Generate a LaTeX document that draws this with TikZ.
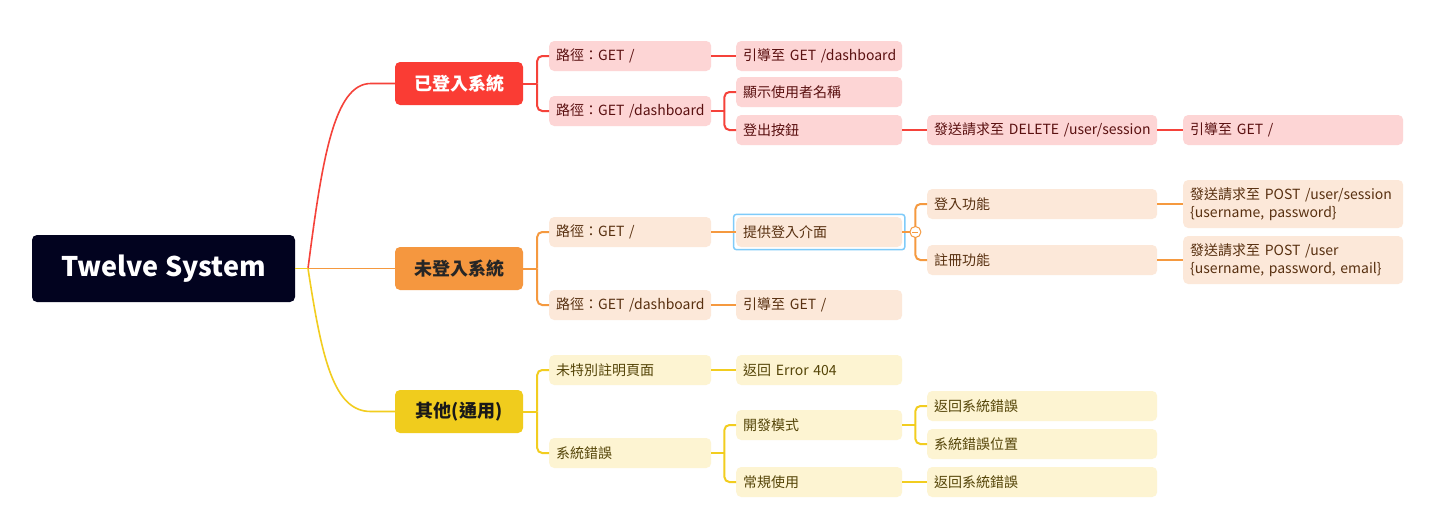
\documentclass[tikz,border=0pt]{standalone}
\usepackage{fontspec}
\setmainfont{Noto Sans CJK TC}
\usetikzlibrary{calc}
\definecolor{rootc}{HTML}{02031F}
\definecolor{rline}{HTML}{F5423A}
\definecolor{rmain}{HTML}{FA3C34}
\definecolor{rlight}{HTML}{FDD5D5}
\definecolor{rtext}{HTML}{5A1010}
\definecolor{oline}{HTML}{F5993F}
\definecolor{omain}{HTML}{F5973F}
\definecolor{olight}{HTML}{FCE8D9}
\definecolor{otext}{HTML}{583010}
\definecolor{yline}{HTML}{F2CD1F}
\definecolor{ymain}{HTML}{F0CC1D}
\definecolor{ylight}{HTML}{FDF4D2}
\definecolor{ytext}{HTML}{554508}
\definecolor{selblue}{HTML}{7FCBF9}
\tikzset{
  box/.style={rectangle, rounded corners=5pt, inner xsep=7pt, inner ysep=0pt,
    minimum height=30pt, align=left, anchor=west,
    font=\fontsize{14}{18.5}\selectfont},
  rbox/.style={box, fill=rlight, text=rtext},
  obox/.style={box, fill=olight, text=otext},
  ybox/.style={box, fill=ylight, text=ytext},
  wtwo/.style={text width=148pt},
  wthree/.style={text width=152pt},
  wfour/.style={text width=216pt},
  wfive/.style={text width=206pt},
  mainbox/.style={rectangle, rounded corners=5pt, minimum width=128pt, minimum height=43pt,
    inner sep=0pt, font=\fontsize{18}{20}\selectfont\bfseries},
  rl/.style={draw=rline, line width=2pt},
  ol/.style={draw=oline, line width=2pt},
  yl/.style={draw=yline, line width=2pt},
  elbow/.style={rounded corners=5pt},
}
\begin{document}
\begin{tikzpicture}[x=1pt,y=-1pt]
\useasboundingbox (0,0) rectangle (1430,530);
\fill[white] (0,0) rectangle (1430,530);

% root
\node[rectangle, rounded corners=5pt, fill=rootc, text=white, minimum width=263pt,
  minimum height=67pt, inner sep=0pt, font=\fontsize{27}{30}\selectfont\bfseries] (root) at (163.5,268.5) {Twelve System};
\coordinate (hub) at (308,268.5);

% main topics
\node[mainbox, fill=rmain, text=white] (r1) at (459,83.5) {已登入系統};
\node[mainbox, fill=omain, text=black!85] (o1) at (459,268.5) {未登入系統};
\node[mainbox, fill=ymain, text=black!90] (y1) at (459,411.5) {其他(通用)};

% red branch
\node[rbox, wtwo] (ra) at (549,56) {\mbox{路徑：GET /}};
\node[rbox, wtwo] (rb) at (549,111) {\mbox{路徑：GET /dashboard}};
\node[rbox, wthree] (rc) at (736,56) {\mbox{引導至 GET /dashboard}};
\node[rbox, wthree] (rd) at (736,92) {\mbox{顯示使用者名稱}};
\node[rbox, wthree] (re) at (736,130) {\mbox{登出按鈕}};
\node[rbox, wfour] (rf) at (927,130) {\mbox{發送請求至 DELETE /user/session}};
\node[rbox, wfive] (rg) at (1183,130) {\mbox{引導至 GET /}};

% orange branch
\node[obox, wtwo] (oa) at (549,232) {\mbox{路徑：GET /}};
\node[obox, wtwo] (ob) at (549,305) {\mbox{路徑：GET /dashboard}};
\node[obox, wthree] (oc) at (736,232) {\mbox{提供登入介面}};
\node[obox, wthree] (od) at (736,305) {\mbox{引導至 GET /}};
\node[obox, wfour] (oe) at (927,204) {\mbox{登入功能}};
\node[obox, wfour] (of) at (927,260) {\mbox{註冊功能}};
\node[obox, wfive, minimum height=48pt] (og) at (1183,204) {\mbox{發送請求至 POST /user/session}\\\mbox{\{username, password\}}};
\node[obox, wfive, minimum height=48pt] (oh) at (1183,260) {\mbox{發送請求至 POST /user}\\\mbox{\{username, password, email\}}};

% yellow branch
\node[ybox, wtwo] (ya) at (549,370) {\mbox{未特別註明頁面}};
\node[ybox, wtwo] (yb) at (549,453) {\mbox{系統錯誤}};
\node[ybox, wthree] (yc) at (736,370) {\mbox{返回 Error 404}};
\node[ybox, wthree] (yd) at (736,425) {\mbox{開發模式}};
\node[ybox, wthree] (ye) at (736,482) {\mbox{常規使用}};
\node[ybox, wfour] (yf) at (927,406) {\mbox{返回系統錯誤}};
\node[ybox, wfour] (yg) at (927,444) {\mbox{系統錯誤位置}};
\node[ybox, wfour] (yh) at (927,482) {\mbox{返回系統錯誤}};

% selection border
\draw[selblue, line width=1.5pt, rounded corners=3pt]
  ([xshift=-2.5pt,yshift=2.5pt]oc.north west) rectangle ([xshift=2.5pt,yshift=-2.5pt]oc.south east);

% root connectors
\draw[ol, line width=1.6pt] (hub) -- (o1.west);
\draw[rl, line width=1.6pt] (hub) .. controls (322,160) and (334,83.5) .. ([xshift=-24pt]r1.west) -- (r1.west);
\draw[yl, line width=1.6pt] (hub) .. controls (322,360) and (334,411.5) .. ([xshift=-24pt]y1.west) -- (y1.west);
\draw[yl, line width=1.6pt] (root.east) -- (hub);

% red connectors
\draw[rl] (r1.east) -- ++(14,0) coordinate (rt1);
\draw[rl, elbow] (rt1) |- (ra.west);
\draw[rl, elbow] (rt1) |- (rb.west);
\draw[rl] (ra.east) -- (rc.west);
\draw[rl] (rb.east) -- ++(13,0) coordinate (rt2);
\draw[rl, elbow] (rt2) |- (rd.west);
\draw[rl, elbow] (rt2) |- (re.west);
\draw[rl] (re.east) -- (rf.west);
\draw[rl] (rf.east) -- (rg.west);

% orange connectors
\draw[ol] (o1.east) -- ++(14,0) coordinate (ot1);
\draw[ol, elbow] (ot1) |- (oa.west);
\draw[ol, elbow] (ot1) |- (ob.west);
\draw[ol] (oa.east) -- (oc.west);
\draw[ol] (ob.east) -- (od.west);
\coordinate (ot2) at ($(oc.east)+(13,0)$);
\draw[ol] (oc.east) -- (ot2);
\draw[ol, elbow] (ot2) |- (oe.west);
\draw[ol, elbow] (ot2) |- (of.west);
\draw[ol] (oe.east) -- (og.west);
\draw[ol] (of.east) -- (oh.west);
\node[circle, draw=oline, fill=white, line width=1pt, minimum size=11pt, inner sep=0pt] (tog) at (ot2) {};
\draw[oline, line width=1pt] ([xshift=-3pt]tog.center) -- ([xshift=3pt]tog.center);

% yellow connectors
\draw[yl] (y1.east) -- ++(14,0) coordinate (yt1);
\draw[yl, elbow] (yt1) |- (ya.west);
\draw[yl, elbow] (yt1) |- (yb.west);
\draw[yl] (ya.east) -- (yc.west);
\draw[yl] (yb.east) -- ++(13,0) coordinate (yt2);
\draw[yl, elbow] (yt2) |- (yd.west);
\draw[yl, elbow] (yt2) |- (ye.west);
\draw[yl] (yd.east) -- ++(13,0) coordinate (yt3);
\draw[yl, elbow] (yt3) |- (yf.west);
\draw[yl, elbow] (yt3) |- (yg.west);
\draw[yl] (ye.east) -- (yh.west);
\end{tikzpicture}
\end{document}
